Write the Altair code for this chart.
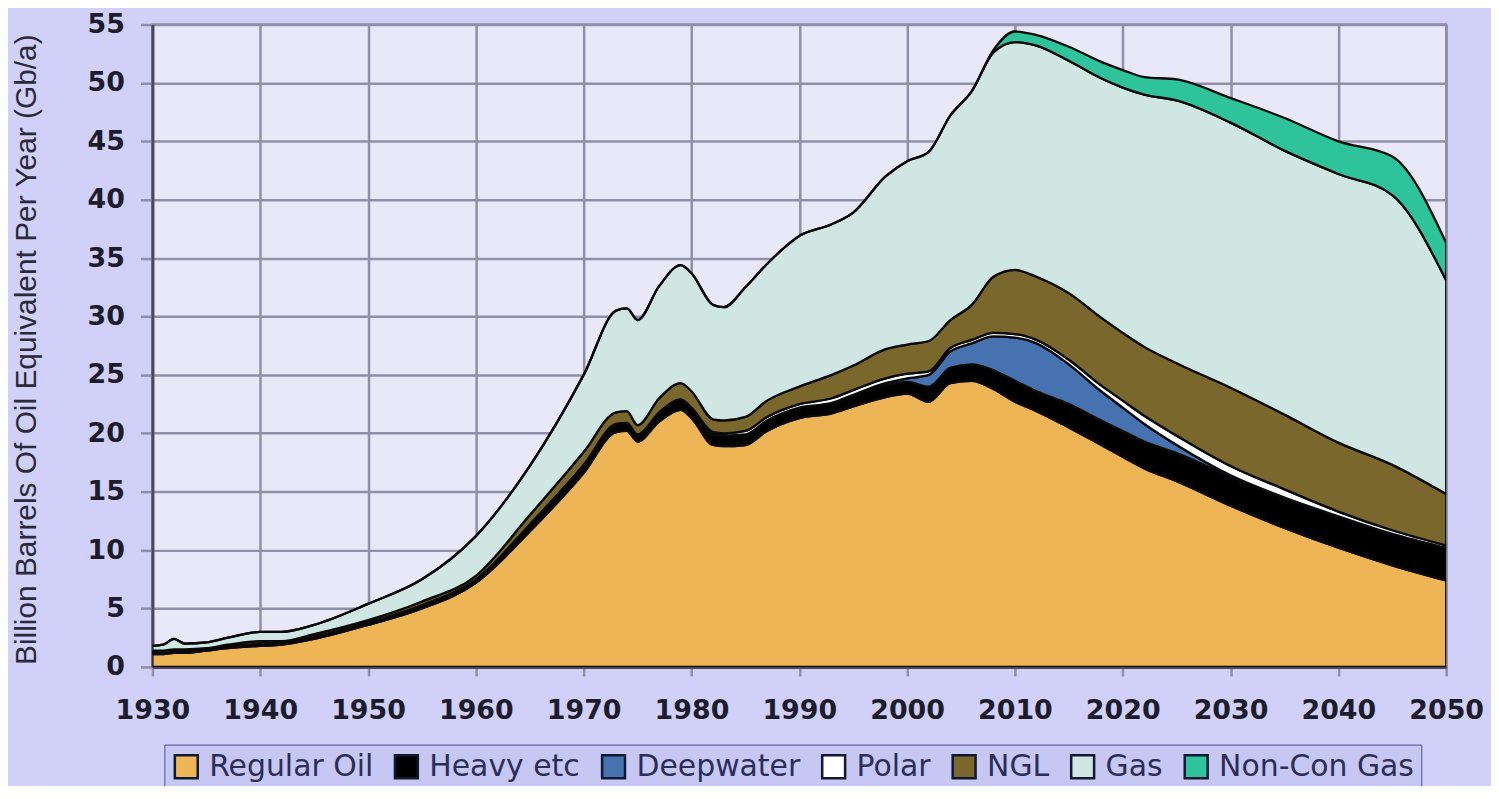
import altair as alt
import pandas as pd

# ---- data (Gb/a) ----
years = [1930, 1931, 1932, 1933, 1935, 1937, 1940, 1942, 1945, 1950, 1955, 1960, 1965,
         1970, 1973, 1974, 1975, 1977, 1979, 1980, 1982, 1983, 1985, 1987, 1990, 1993,
         1995, 1998, 2000, 2002, 2004, 2006, 2008, 2010, 2012, 2015, 2018, 2020, 2022,
         2025, 2030, 2035, 2040, 2045, 2050]

regular_oil = [1.1, 1.1, 1.2, 1.2, 1.4, 1.6, 1.8, 1.9, 2.4, 3.6, 5.0, 7.2, 11.6,
               16.6, 20.1, 20.2, 19.3, 21.0, 22.0, 21.3, 19.0, 18.9, 19.0, 20.2, 21.3, 21.7,
               22.3, 23.1, 23.4, 22.7, 24.3, 24.5, 23.8, 22.7, 21.9, 20.5, 19.0, 18.0, 17.0,
               15.9, 13.8, 11.9, 10.2, 8.7, 7.4]
heavy_etc = [0.1, 0.1, 0.1, 0.1, 0.1, 0.15, 0.2, 0.2, 0.2, 0.2, 0.3, 0.3, 0.6,
             0.7, 0.7, 0.7, 0.6, 0.8, 0.9, 0.9, 0.9, 0.9, 0.9, 0.9, 0.9, 0.9,
             1.0, 1.0, 1.0, 1.3, 1.3, 1.4, 1.6, 1.8, 1.7, 2.0, 2.1, 2.2, 2.3,
             2.4, 2.5, 2.6, 2.7, 2.7, 2.8]
deepwater = [0, 0, 0, 0, 0, 0, 0, 0, 0, 0, 0, 0, 0,
             0, 0, 0, 0, 0, 0, 0, 0, 0, 0, 0, 0, 0,
             0, 0.2, 0.3, 1.0, 1.4, 1.8, 2.9, 3.7, 4.1, 3.4, 2.5, 2.0, 1.5,
             0.7, 0.1, 0, 0, 0, 0]
polar = [0, 0, 0, 0, 0, 0, 0, 0, 0, 0, 0, 0, 0,
         0, 0, 0, 0, 0, 0, 0, 0.2, 0.2, 0.3, 0.3, 0.3, 0.4,
         0.4, 0.4, 0.4, 0.3, 0.3, 0.3, 0.3, 0.3, 0.3, 0.4, 0.5, 0.6, 0.7,
         0.8, 0.8, 0.7, 0.4, 0.3, 0.2]
ngl = [0.2, 0.2, 0.2, 0.2, 0.1, 0.15, 0.2, 0.1, 0.2, 0.2, 0.3, 0.3, 0.8,
       1.1, 1.0, 1.0, 0.8, 1.2, 1.4, 1.4, 1.1, 1.1, 1.2, 1.4, 1.5, 2.0,
       2.1, 2.5, 2.5, 2.6, 2.4, 3.0, 4.8, 5.5, 5.4, 5.7, 5.8, 5.8, 5.9,
       6.2, 6.7, 6.4, 5.9, 5.6, 4.4]
gas = [0.4, 0.5, 0.9, 0.5, 0.5, 0.6, 0.8, 0.8, 0.8, 1.4, 1.9, 3.4, 4.2,
       6.6, 8.7, 8.8, 9.0, 9.6, 10.1, 10.1, 9.8, 9.7, 11.1, 11.7, 12.9, 12.9,
       13.1, 14.8, 15.7, 16.2, 17.5, 18.3, 19.2, 19.5, 19.8, 19.9, 20.5, 21.0, 21.6,
       22.5, 22.7, 22.6, 23.0, 23.1, 18.3]
non_con_gas = [0, 0, 0, 0, 0, 0, 0, 0, 0, 0, 0, 0, 0,
               0, 0, 0, 0, 0, 0, 0, 0, 0, 0, 0, 0, 0,
               0, 0, 0, 0, 0, 0, 0.2, 0.9, 0.9, 1.2, 1.4, 1.5, 1.5,
               1.8, 2.1, 2.8, 2.8, 3.3, 3.2]

series_names = ["Regular Oil", "Heavy etc", "Deepwater", "Polar", "NGL", "Gas", "Non-Con Gas"]
series_values = [regular_oil, heavy_etc, deepwater, polar, ngl, gas, non_con_gas]
series_colors = ["#edb556", "#000000", "#4673b0", "#ffffff", "#7a672c", "#d0e6e2", "#2fc39c"]
y_ticks = list(range(0, 56, 5))
x_ticks = list(range(1930, 2051, 10))

rows = []
for idx, (name, vals) in enumerate(zip(series_names, series_values)):
    for yr, v in zip(years, vals):
        rows.append({"year": yr, "value": v, "series": name, "order": idx})
df = pd.DataFrame(rows)

grid_col = "#8f8fa8"
label_col = "#1c1c2c"

chart = alt.Chart(df).mark_area(
    stroke="#0a0a0a", strokeWidth=2.3, interpolate="monotone", clip=True, opacity=1
).encode(
    x=alt.X("year:Q",
            scale=alt.Scale(domain=[1930, 2050], nice=False, zero=False),
            axis=alt.Axis(values=x_ticks, format="d", title=None, grid=True,
                          gridColor=grid_col, gridWidth=2.5,
                          tickColor=grid_col, tickWidth=2.5, tickSize=9,
                          labelFont="DejaVu Sans", labelFontWeight="bold", labelFontSize=27,
                          labelColor=label_col, labelPadding=22, labelOverlap=False,
                          labelFlush=False,
                          domainColor="#4a4a5a", domainWidth=3)),
    y=alt.Y("value:Q", stack="zero",
            scale=alt.Scale(domain=[0, 55], nice=False),
            axis=alt.Axis(values=y_ticks, grid=True, gridColor=grid_col, gridWidth=2.5,
                          tickColor=grid_col, tickWidth=2.5, tickSize=12,
                          labelFont="DejaVu Sans", labelFontWeight="bold", labelFontSize=27,
                          labelColor=label_col, labelPadding=16,
                          domainColor="#4a4a5a", domainWidth=3,
                          title="Billion Barrels Of Oil Equivalent Per Year (Gb/a)",
                          titleFont="Liberation Sans", titleFontSize=30,
                          titleFontWeight="normal", titleColor="#2a2a3a",
                          titleX=-126, titleY=326, titleAngle=270,
                          titleAlign="center", titleBaseline="middle")),
    color=alt.Color("series:N",
                    scale=alt.Scale(domain=series_names, range=series_colors),
                    legend=alt.Legend(title=None, orient="none", legendX=12, legendY=723,
                                      direction="horizontal", columns=7,
                                      symbolType="square", symbolSize=529,
                                      symbolStrokeWidth=2.5, symbolStrokeColor="#101830",
                                      symbolOpacity=1,
                                      labelFont="DejaVu Sans", labelFontSize=30,
                                      labelColor="#2a2e58", labelOffset=8, labelLimit=0,
                                      columnPadding=16, padding=7,
                                      strokeColor="#4a4f96", fillColor="#c7c7f3")),
    order=alt.Order("order:Q", sort="ascending"),
).properties(
    width=1299, height=645,
    autosize=alt.AutoSizeParams(type="none"),
    padding={"left": 145, "top": 15, "right": 45, "bottom": 118},
    background="#d0d0f8",
).configure_view(
    fill="#e8e8f9", stroke="#707080", strokeWidth=2
)

chart.save("out.html", embed_options={"renderer": "svg", "actions": False})
